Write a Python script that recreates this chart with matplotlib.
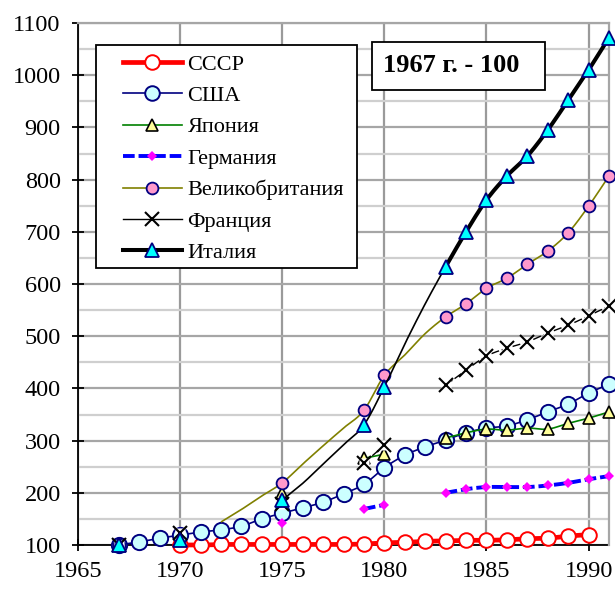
import numpy as np
import matplotlib
matplotlib.use("Agg")
import matplotlib.pyplot as plt
from matplotlib.lines import Line2D
from matplotlib.patches import Rectangle

plt.rcParams['font.family'] = ['Liberation Serif', 'DejaVu Serif']

nan = np.nan
years = np.arange(1967, 1992)

# index values, 1967 = 100 (nan = no data)
ussr = [nan, nan, nan, 100, 100, 101, 101, 101, 101, 101, 101, 101, 102,
        104, 105, 107, 108, 109, 109, 110, 112, 113, 117, 120, nan]
usa = [100, 106, 113, 119, 125, 129, 136, 150, 161, 171, 182, 198, 216,
       248, 272, 288, 301, 315, 324, 328, 340, 355, 370, 391, 408]
japan = [100, nan, nan, nan, nan, nan, nan, nan, 200, nan, nan, nan, 266,
         274, nan, nan, 305, 315, 322, 320, 324, 322, 333, 343, 355]
germany = [100, nan, nan, nan, nan, nan, nan, nan, 142, nan, nan, nan, 169,
           177, nan, nan, 200, 207, 211, 211, 211, 214, 219, 226, 232]
uk = [100, nan, nan, nan, nan, 144, 168, 194, 219, 255, 290, 324, 358,
      425, 464, 505, 537, 562, 592, 611, 638, 663, 698, 749, 807]
france = [100, nan, nan, 123, nan, nan, nan, nan, 178, nan, nan, nan, 257,
          291, nan, nan, 406, 435, 462, 477, 489, 506, 521, 539, 558]
italy = [100, nan, nan, 110, nan, nan, nan, nan, 186, 218, 255, 292, 330,
         403, 485, 562, 633, 700, 761, 807, 845, 895, 952, 1010, 1072]

late = list(range(1983, 1992))
uk_marks = [1967, 1975, 1979, 1980] + late
italy_marks = [1967, 1970, 1975, 1979, 1980] + late
italy_thick_from = 1983

labels = ['СССР', 'США', 'Япония', 'Германия', 'Великобритания', 'Франция', 'Италия']
note = '1967 г. - 100'


def runs(vals):
    ok = ~np.isnan(vals)
    out, start = [], None
    for i, f in enumerate(ok):
        if f and start is None:
            start = i
        if not f and start is not None:
            out.append((start, i))
            start = None
    if start is not None:
        out.append((start, len(vals)))
    return [r for r in out if r[1] - r[0] > 1]


def smooth(x, y, n=24):
    # excel-like smoothed line (catmull-rom as bezier)
    px = np.r_[x[0], x, x[-1]]
    py = np.r_[y[0], y, y[-1]]
    t = np.linspace(0, 1, n)[:, None]
    pts = []
    for i in range(len(x) - 1):
        p0 = np.array([px[i], py[i]])
        p1 = np.array([px[i + 1], py[i + 1]])
        p2 = np.array([px[i + 2], py[i + 2]])
        p3 = np.array([px[i + 3], py[i + 3]])
        c1 = p1 + (p2 - p0) / 6
        c2 = p2 - (p3 - p1) / 6
        b = ((1 - t) ** 3) * p1 + 3 * ((1 - t) ** 2) * t * c1 + 3 * (1 - t) * t ** 2 * c2 + t ** 3 * p2
        pts.append(b if i == 0 else b[1:])
    pts = np.vstack(pts)
    return pts[:, 0], pts[:, 1]


def draw_lines(ax, vals, z, split=None, **kw):
    vals = np.array(vals, dtype=float)
    for a, b in runs(vals):
        x, y = years[a:b].astype(float), vals[a:b]
        sx, sy = smooth(x, y)
        if split is None:
            ax.plot(sx, sy, zorder=z, solid_capstyle='butt', clip_on=False, **kw)
        else:
            thin = sx <= split
            ax.plot(sx[thin], sy[thin], zorder=z, color='black', lw=1.2, clip_on=False)
            ax.plot(sx[~thin], sy[~thin], zorder=z, solid_capstyle='butt', clip_on=False, **kw)


def draw_marks(ax, vals, z, only=None, **kw):
    vals = np.array(vals, dtype=float)
    m = ~np.isnan(vals)
    if only is not None:
        m &= np.isin(years, only)
    ax.plot(years[m], vals[m], ls='none', zorder=z, clip_on=False, **kw)


fig = plt.figure(figsize=(6.15, 5.9), dpi=100)
ax = fig.add_axes([78 / 615, 1 - 545 / 590, 531 / 615, 522 / 590])

ax.set_xlim(1965, 1991)
ax.set_ylim(100, 1100)
ax.set_xticks(range(1965, 1991, 5))
ax.set_yticks(range(100, 1101, 100))
ax.set_yticks(range(150, 1100, 100), minor=True)
ax.grid(True, which='major', axis='y', color='#a6a6a6', lw=1.6, zorder=0)
ax.grid(True, which='minor', axis='y', color='#cfcfcf', lw=1.6, zorder=0)
ax.grid(True, which='major', axis='x', color='#9a9a9a', lw=1.6, zorder=0)
ax.tick_params(axis='both', which='major', direction='inout', length=9, width=1.3,
               labelsize=17.5, color='black')
ax.tick_params(axis='y', which='minor', length=0)
ax.tick_params(axis='x', pad=7)
ax.tick_params(axis='y', pad=8)
for s in ['left', 'bottom']:
    ax.spines[s].set_color('black')
    ax.spines[s].set_linewidth(1.3)
for s in ['top', 'right']:
    ax.spines[s].set_color('#a6a6a6')
    ax.spines[s].set_linewidth(1.6)
ax.spines['left'].set_zorder(2)
ax.spines['bottom'].set_zorder(2)

# СССР
draw_lines(ax, ussr, 3, color='#ff0000', lw=3.4)
draw_marks(ax, ussr, 3.1, marker='o', ms=10.5, mfc='white', mec='#ff0000', mew=1.4)
# США
draw_lines(ax, usa, 4, color='#000080', lw=1.2)
draw_marks(ax, usa, 4.1, marker='o', ms=11, mfc='#ccffff', mec='#000080', mew=1.4)
# Япония
draw_lines(ax, japan, 5, color='#008000', lw=1.2)
draw_marks(ax, japan, 5.1, marker='^', ms=9, mfc='#ffff99', mec='black', mew=1.2)
# Германия
draw_lines(ax, germany, 6, color='#0000ff', lw=2.8, dashes=(3, 1))
draw_marks(ax, germany, 6.1, marker='D', ms=5, mfc='#ff00ff', mec='#ff00ff', mew=0)
# Великобритания
draw_lines(ax, uk, 7, color='#808000', lw=1.2)
draw_marks(ax, uk, 7.1, only=uk_marks, marker='o', ms=8.5, mfc='#ff99cc', mec='#000080', mew=1.3)
# Франция
draw_lines(ax, france, 8, color='black', lw=1.0, dashes=(6, 2))
draw_marks(ax, france, 8.1, marker='s', ms=7, mfc='white', mec='none')
draw_marks(ax, france, 8.2, marker='x', ms=10, mec='black', mew=1.5)
# Италия
draw_lines(ax, italy, 9, split=italy_thick_from, color='black', lw=2.9)
draw_marks(ax, italy, 9.1, only=italy_marks, marker='^', ms=9.5, mfc='#00ffff', mec='#000080', mew=1.3)

# legend
handles = [
    Line2D([], [], color='#ff0000', lw=3.4, marker='o', ms=10.5, mfc='white', mec='#ff0000', mew=1.4),
    Line2D([], [], color='#000080', lw=1.2, marker='o', ms=10.5, mfc='#ccffff', mec='#000080', mew=1.4),
    Line2D([], [], color='#008000', lw=1.2, marker='^', ms=9, mfc='#ffff99', mec='black', mew=1.2),
    Line2D([], [], color='#0000ff', lw=2.8, dashes=(3, 1), marker='D', ms=5, mfc='#ff00ff', mec='#ff00ff', mew=0),
    Line2D([], [], color='#808000', lw=1.2, marker='o', ms=8.5, mfc='#ff99cc', mec='#000080', mew=1.3),
    Line2D([], [], color='black', lw=1.0, marker='x', ms=10, mec='black', mew=1.5),
    Line2D([], [], color='black', lw=2.9, marker='^', ms=9.5, mfc='#00ffff', mec='#000080', mew=1.3),
]
ax.add_patch(Rectangle(((96 - 78) / 531, (545 - 268) / 522), 261 / 531, 223 / 522,
                       transform=ax.transAxes, fc='white', ec='black', lw=1.3, zorder=30))
leg = ax.legend(handles, labels, loc='upper left', bbox_to_anchor=((123 - 78) / 531, (545 - 54) / 522),
                borderaxespad=0, borderpad=0, frameon=False, fontsize=16,
                handlelength=2.65, handletextpad=0.25, labelspacing=0.49)
leg.set_zorder(31)

ax.add_patch(Rectangle(((372 - 78) / 531, (545 - 90) / 522), 173 / 531, 48 / 522,
                       transform=ax.transAxes, fc='white', ec='black', lw=1.3, zorder=30))
ax.text((451 - 78) / 531, (545 - 66) / 522, note, transform=ax.transAxes,
        ha='center', va='center', fontsize=19, fontweight='bold', zorder=31)

fig.savefig('out.png', dpi=100)
